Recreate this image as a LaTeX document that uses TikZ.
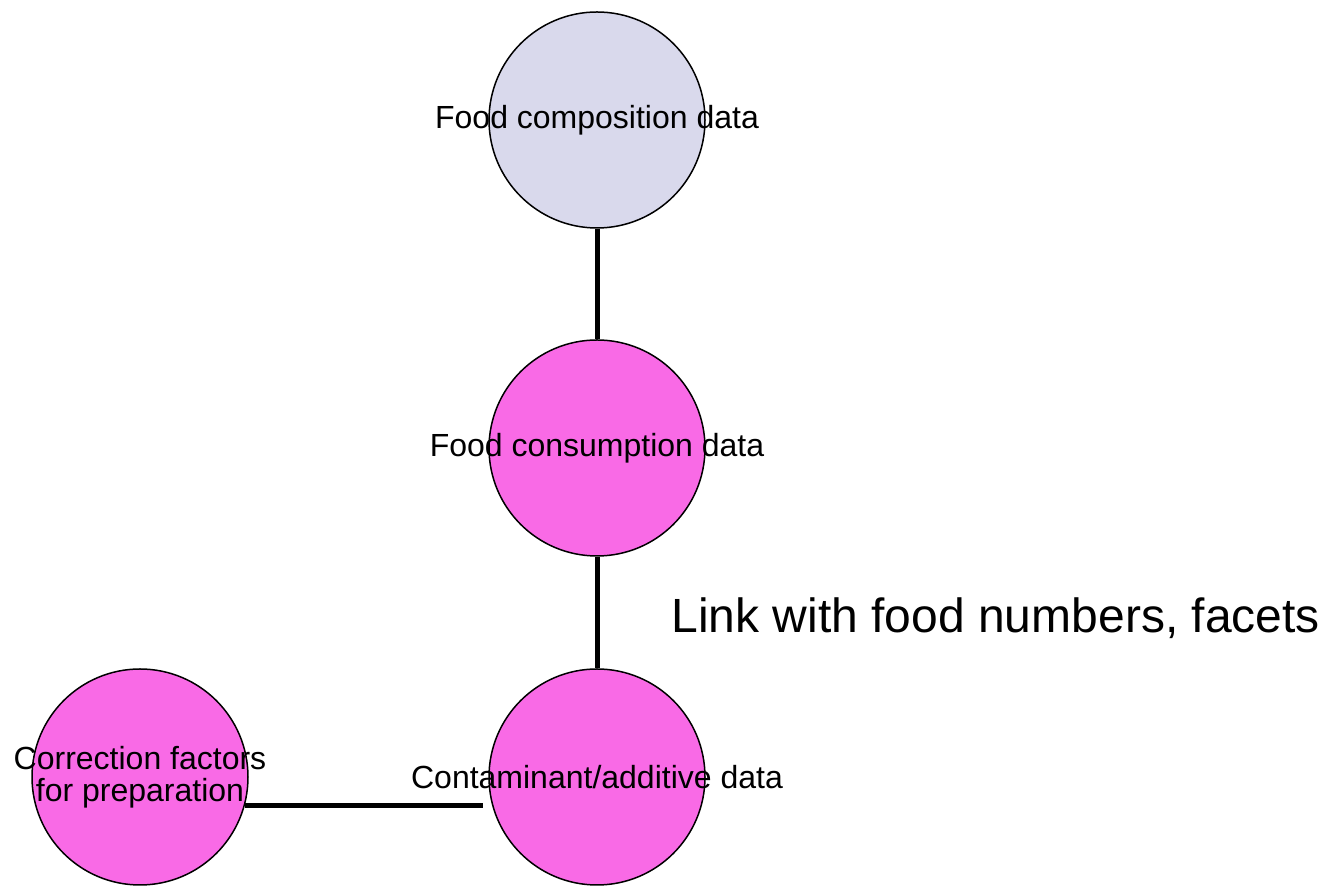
\documentclass[tikz,border=0pt]{standalone}
\usepackage{fontspec}
\setmainfont{Liberation Sans}
\definecolor{lavender}{RGB}{217,217,236}
\definecolor{orchid}{RGB}{249,106,230}

\begin{document}
\begin{tikzpicture}[x=1pt,y=1pt,
  blob/.style={circle,draw=black,line width=1.5pt,fill=orchid,minimum size=216pt,
    inner sep=0pt,
    label={[align=center,font=\fontsize{32}{32}\selectfont]center:#1}},
  link/.style={line width=5pt}]
  \useasboundingbox (0,0) rectangle (1331,890);
  % the four data sources
  \node[blob={Food composition data},fill=lavender] (comp) at (597,770) {};
  \node[blob={Food consumption data}] (cons) at (597,442) {};
  \node[blob={Contaminant/additive data}] (cont) at (597,113) {};
  \node[blob={Correction factors\\for preparation}] (corr) at (140,113) {};
  % links between them
  \draw[link] (comp.south) -- (cons.north);
  \draw[link] (cons.south) -- (cont.north);
  \draw[link,shorten >=5pt] (corr.-15) -- (cont.west |- corr.-15);
  \node[anchor=base west,font=\fontsize{48}{48}\selectfont] (facets) at (668,257)
    {Link with food numbers, facets};
\end{tikzpicture}
\end{document}
